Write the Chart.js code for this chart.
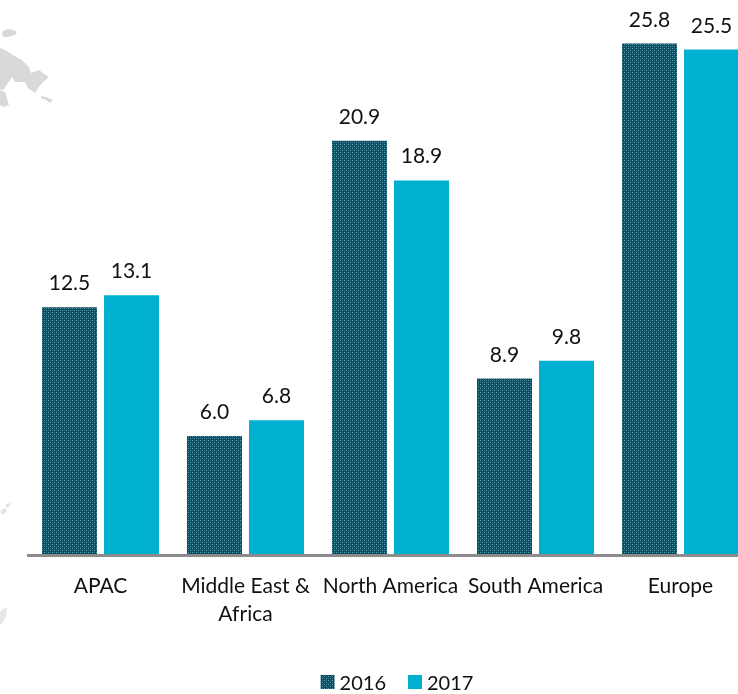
<!DOCTYPE html>
<html>
<head>
<meta charset="utf-8">
<title>Regional share</title>
<script src="https://cdn.jsdelivr.net/npm/chart.js@4"></script>
<style>
  html, body { margin: 0; padding: 0; background: #fff; overflow: hidden; width: 738px; height: 694px; }
  canvas { display: block; }
</style>
</head>
<body>
<canvas id="myChart" width="794" height="694" style="width:794px;height:694px"></canvas>
<script>
const categories = ["APAC", ["Middle East &", "Africa"], "North America", "South America", "Europe"];
const series2016 = [12.5, 6.0, 20.9, 8.9, 25.8];
const series2017 = [13.1, 6.8, 18.9, 9.8, 25.5];

const FONT = "Lato, 'Open Sans', sans-serif";
const TEXT = "#111";

// dotted fill for the 2016 bars
function dotPattern() {
  const tile = document.createElement("canvas");
  tile.width = 4;
  tile.height = 4;
  const c = tile.getContext("2d");
  c.fillStyle = "#0f4c5f";
  c.fillRect(0, 0, 4, 4);
  c.fillStyle = "#5ba3b2";
  c.fillRect(0, 0, 1, 1);
  c.fillRect(2, 2, 1, 1);
  c.fillStyle = "#2f7386";
  c.fillRect(2, 0, 1, 1);
  c.fillRect(0, 2, 1, 1);
  return document.getElementById("myChart").getContext("2d").createPattern(tile, "repeat");
}

// faint map fragments behind the chart
const mapShapes = [
  { fill: "#d9d9d9", points: [[2, 33], [3, 31], [8, 29], [14, 30], [17, 32], [15, 35], [8, 37], [3, 37]] },
  { fill: "#d9d9d9", points: [[0, 48], [5, 50], [13, 55], [22, 60], [29, 67], [31, 73], [39, 70], [43, 73], [49, 77],
    [42, 83], [38, 88], [35, 93], [28, 88], [25, 82], [15, 82], [12, 77], [8, 83], [3, 90], [0, 89]] },
  { fill: "#d9d9d9", points: [[0, 90], [5, 92], [9, 105], [3, 107], [0, 105]] },
  { fill: "#d9d9d9", points: [[41, 96], [46, 97], [53, 100], [50, 103], [46, 100], [41, 98]] },
  { fill: "#e6e6e6", points: [[6, 504], [11, 503], [9, 507], [6, 508]] },
  { fill: "#e6e6e6", points: [[1, 510], [5, 508], [7, 511], [4, 514], [1, 514]] },
  { fill: "#e6e6e6", points: [[2, 610], [7, 607], [6, 616], [2, 624], [0, 624], [0, 612]] },
];

const backdrop = {
  id: "backdrop",
  beforeDraw(chart) {
    const ctx = chart.ctx;
    ctx.save();
    ctx.filter = "blur(0.7px)";
    mapShapes.forEach((shape) => {
      ctx.fillStyle = shape.fill;
      ctx.beginPath();
      shape.points.forEach(([x, y], i) => (i ? ctx.lineTo(x, y) : ctx.moveTo(x, y)));
      ctx.closePath();
      ctx.fill();
    });
    ctx.restore();
  },
};

// value above each bar
const barValues = {
  id: "barValues",
  afterDatasetsDraw(chart) {
    const ctx = chart.ctx;
    ctx.save();
    ctx.font = "21px " + FONT;
    ctx.fillStyle = TEXT;
    ctx.textAlign = "center";
    ctx.textBaseline = "alphabetic";
    chart.data.datasets.forEach((ds, i) => {
      chart.getDatasetMeta(i).data.forEach((bar, j) => {
        ctx.fillText(ds.data[j].toFixed(1), bar.x, bar.y - 17);
      });
    });
    ctx.restore();
  },
};

// legend row: the built-in one leaves too wide a gap between swatch and text
const legendRow = {
  id: "legendRow",
  afterDraw(chart) {
    const ctx = chart.ctx;
    const box = 14, gap = 5, spacing = 22;
    ctx.save();
    ctx.font = "20px " + FONT;
    ctx.textBaseline = "alphabetic";
    const items = chart.data.datasets;
    const widths = items.map((ds) => box + gap + ctx.measureText(ds.label).width);
    let x = chart.width / 2 - (widths.reduce((a, b) => a + b, 0) + spacing * (items.length - 1)) / 2;
    items.forEach((ds, i) => {
      ctx.fillStyle = ds.backgroundColor;
      ctx.fillRect(x, 675, box, box);
      ctx.fillStyle = TEXT;
      ctx.fillText(ds.label, x + box + gap, 690);
      x += widths[i] + spacing;
    });
    ctx.restore();
  },
};

new Chart(document.getElementById("myChart"), {
  type: "bar",
  data: {
    labels: categories,
    datasets: [
      { label: "2016", data: series2016, backgroundColor: dotPattern() },
      { label: "2017", data: series2017, backgroundColor: "#00b0d0" },
    ],
  },
  plugins: [backdrop, barValues, legendRow],
  options: {
    responsive: false,
    animation: false,
    categoryPercentage: 0.855,
    barPercentage: 0.887,
    layout: { padding: { left: 28, right: 41, top: 0, bottom: 0 } },
    plugins: {
      tooltip: { enabled: false },
      legend: { display: false },
    },
    scales: {
      x: {
        grid: { display: false, drawTicks: false },
        border: { display: true, color: "#8c8c8c", width: 3, z: 1 },
        ticks: {
          color: TEXT,
          padding: 17,
          maxRotation: 0,
          autoSkip: false,
          font: { family: FONT, size: 21, lineHeight: 1.33 },
        },
        afterFit(scale) {
          scale.height = 139;
        },
      },
      y: { display: false, min: 0, max: 28 },
    },
  },
});
</script>
</body>
</html>
